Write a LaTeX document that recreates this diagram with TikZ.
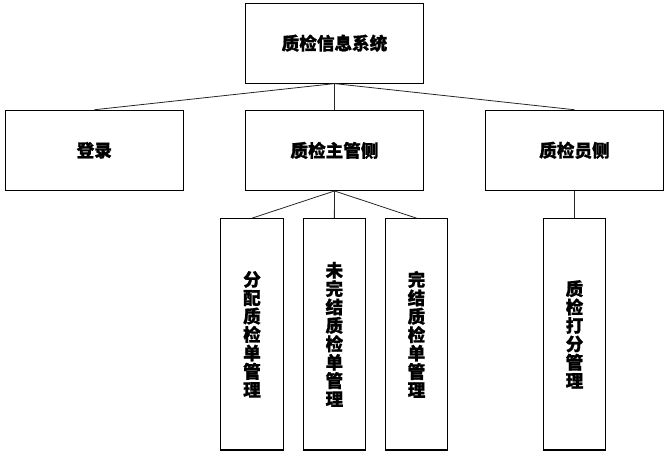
\documentclass[tikz,border=0pt]{standalone}
\usepackage{fontspec}
\newfontfamily\cjk{Noto Sans CJK SC}[BoldFeatures={FakeBold=0.8}]
\tikzset{
  box/.style={draw=black, line width=1.1pt, fill=white, inner sep=0pt,
    font=\cjk\bfseries\fontsize{17.6}{18.4}\selectfont, align=center},
  wide/.style={box, minimum width=177.6pt, minimum height=80pt},
  tall/.style={box, minimum width=62.6pt, minimum height=231.3pt},
  link/.style={draw=black!85, line width=0.8pt}
}
\begin{document}
\begin{tikzpicture}[x=1pt,y=-1pt]
\useasboundingbox (0,0) rectangle (669,459);
\node[wide, minimum height=79.7pt] (top) at (334.5,43.2) {质检信息系统};
\node[wide, minimum width=178pt] (login) at (94.3,150.3) {登录};
\node[wide] (mgr) at (334.5,150.4) {质检主管侧};
\node[wide] (insp) at (574.5,150.3) {质检员侧};
\node[tall] (c1) at (252,334.35) {分\\配\\质\\检\\单\\管\\理};
\node[tall] (c2) at (334.35,334.35) {未\\完\\结\\质\\检\\单\\管\\理};
\node[tall] (c3) at (416.5,334.35) {完\\结\\质\\检\\单\\管\\理};
\node[tall] (c4) at (574.5,334.35) {质\\检\\打\\分\\管\\理};
\draw[link] (top.south) -- (login.north);
\draw[link] (top.south) -- (mgr.north);
\draw[link] (top.south) -- (insp.north);
\draw[link] (mgr.south) -- (c1.north);
\draw[link] (mgr.south) -- (c2.north);
\draw[link] (mgr.south) -- (c3.north);
\draw[link] (insp.south) -- (c4.north);
\end{tikzpicture}
\end{document}
